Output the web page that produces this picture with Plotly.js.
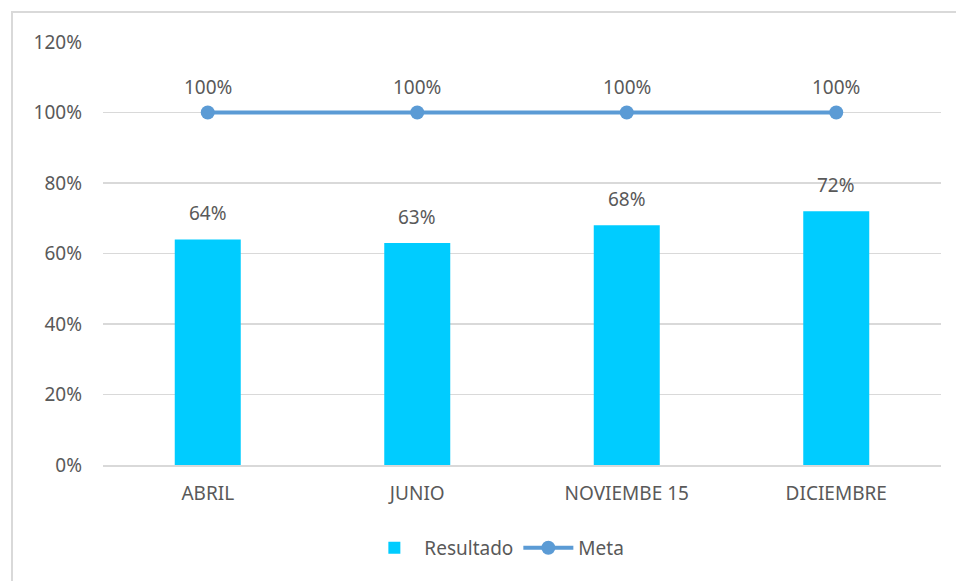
<!DOCTYPE html>
<html>
<head>
<meta charset="utf-8">
<script src="https://cdn.plot.ly/plotly-3.0.1.min.js"></script>
<style>
html,body{margin:0;padding:0;background:#fff;}
#wrap{position:absolute;left:0;top:0;width:956px;height:581px;}
#frame{position:absolute;left:11px;top:11px;width:960px;height:600px;border-left:2px solid #D9D9D9;border-top:2px solid #D9D9D9;pointer-events:none;}
#chart{position:absolute;left:0;top:0;width:956px;height:581px;}
</style>
</head>
<body>
<div id="wrap"><div id="chart"></div><div id="frame"></div></div>
<script>
const categories = ["ABRIL", "JUNIO", "NOVIEMBE 15", "DICIEMBRE"];
const resultado = [0.64, 0.63, 0.68, 0.72];
const meta = [1.0, 1.0, 1.0, 1.0];
const yTickVals = [0, 0.2, 0.4, 0.6, 0.8, 1.0, 1.2];
const yTickText = ["0%", "20%", "40%", "60%", "80%", "100%", "120%"];

const fontFam = "'Noto Sans', 'Open Sans', sans-serif";
const txtColor = "#595959";
const fs = 19;

const traces = [
  {
    type: "bar", name: "Resultado", x: categories, y: resultado,
    marker: {color: "#00CCFF"}, hoverinfo: "none"
  },
  {
    type: "scatter", mode: "lines+markers", name: "Meta", x: categories, y: meta,
    line: {color: "#5B9BD5", width: 4}, marker: {color: "#5B9BD5", size: 14},
    hoverinfo: "none"
  }
];

const fmt = v => Math.round(v * 100) + "%";
const annotations = [];
categories.forEach((c, i) => {
  annotations.push({x: c, y: resultado[i], text: fmt(resultado[i]), showarrow: false,
    yanchor: "bottom", yshift: 11, font: {family: fontFam, size: fs, color: txtColor}});
  annotations.push({x: c, y: meta[i], text: fmt(meta[i]), showarrow: false,
    yanchor: "bottom", yshift: 11, font: {family: fontFam, size: fs, color: txtColor}});
});

const layout = {
  width: 956, height: 581,
  margin: {l: 103, r: 15, t: 42, b: 116},
  paper_bgcolor: "rgba(0,0,0,0)", plot_bgcolor: "#fff",
  font: {family: fontFam, size: fs, color: txtColor},
  bargap: 0.685,
  showlegend: true,
  legend: {orientation: "h", x: 0.47, xanchor: "center", y: -0.196, yanchor: "middle",
    font: {family: fontFam, size: fs, color: txtColor}, itemwidth: 50, traceorder: "normal"},
  xaxis: {type: "category", showgrid: false, showline: true, linecolor: "#D9D9D9", linewidth: 2,
    ticks: "", tickfont: {family: fontFam, size: fs, color: txtColor}, ticklabelstandoff: 10},
  yaxis: {range: [0, 1.2], tickvals: yTickVals, ticktext: yTickText, showgrid: true,
    gridcolor: "#D9D9D9", gridwidth: 1.5, zeroline: false, showline: false, ticks: "",
    tickfont: {family: fontFam, size: fs, color: txtColor}, ticklabelstandoff: 20},
  annotations: annotations
};

Plotly.newPlot("chart", traces, layout, {displayModeBar: false, staticPlot: true});
</script>
</body>
</html>
